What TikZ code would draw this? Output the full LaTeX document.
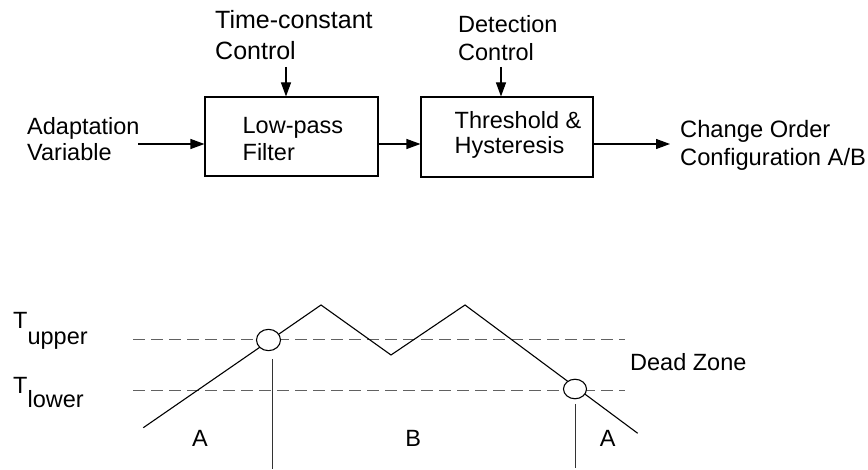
\documentclass[tikz,border=0pt]{standalone}
\usepackage{fontspec}
\setmainfont{Liberation Sans}
\usetikzlibrary{arrows.meta,shapes.geometric}

\tikzset{
  txt/.style={inner sep=0pt, align=left, font=\fontsize{23.5}{27}\selectfont},
  block/.style={draw=black, line width=1.1pt, minimum width=173pt, minimum height=79pt, inner sep=0pt},
  flow/.style={line width=1.1pt, -{Triangle[length=14pt,width=10pt]}},
  signal/.style={line width=1.1pt, line join=miter},
  level/.style={draw=black!62, line width=1.6pt, dash pattern=on 12pt off 6pt},
  marker/.style={draw=black, line width=1.1pt, fill=white, ellipse, inner sep=0pt},
  cut/.style={draw=black!80, line width=1.1pt},
}

\begin{document}
\begin{tikzpicture}[x=1pt, y=-1pt]
  \useasboundingbox (0,0) rectangle (868,470);

  % ---------- signal chain ----------
  \node[block] (lpf) at (291.5,136.5) {};
  \node[block, minimum width=172pt, minimum height=80pt] (hys) at (507,137) {};

  \node[txt, anchor=north west] (lpftext) at ([xshift=38pt,yshift=-21pt]lpf.north west) {Low-pass\\Filter};
  \node[txt, anchor=north west, font=\fontsize{23.5}{25}\selectfont] (hystext) at ([xshift=34pt,yshift=-15pt]hys.north west) {Threshold \&\\Hysteresis};

  \node[txt, anchor=north west, font=\fontsize{23.5}{26.6}\selectfont] (inp) at (27,117) {Adaptation\\Variable};
  \node[txt, anchor=north west, font=\fontsize{23.7}{28.3}\selectfont] (outp) at (680,120) {Change Order\\Configuration A/B};
  \node[txt, anchor=north west, font=\fontsize{25}{31}\selectfont] (tcc) at (215,10) {Time-constant\\Control};
  \node[txt, anchor=north west, font=\fontsize{23.5}{28.3}\selectfont] (dcc) at (458,15) {Detection\\Control};

  \coordinate (inEnd) at (138,144);
  \coordinate (outEnd) at (670,144);
  \coordinate (tcTop) at (286,67);
  \coordinate (dcTop) at (501,67);

  \draw[flow] (inEnd) -- (inEnd -| lpf.west);
  \draw[flow] (lpf.east |- inEnd) -- (hys.west |- inEnd);
  \draw[flow] (hys.east |- inEnd) -- (outEnd);
  \draw[flow] (tcTop) -- (tcTop |- lpf.north);
  \draw[flow] (dcTop) -- (dcTop |- hys.north);

  % ---------- hysteresis thresholds ----------
  \coordinate (upL) at (133,339.5);
  \coordinate (upR) at (625,339.5);
  \coordinate (loL) at (133,390.7);
  \coordinate (loR) at (625,390.7);
  \draw[level] (upL) -- (upR);
  \draw[level] (loL) -- (loR);

  \node[txt, anchor=north west] (tup) at (13,312) {T\raisebox{-16pt}{upper}};
  \node[txt, anchor=north west] (tlo) at (13,377) {T\raisebox{-14pt}{lower}};
  \node[txt, anchor=north west] (dz) at (630,353) {Dead Zone};

  % ---------- input trajectory ----------
  \coordinate (s0) at (143.3,427.7);
  \coordinate (s1) at (321,305);
  \coordinate (s2) at (391,355);
  \coordinate (s3) at (465,305);
  \coordinate (s4) at (637.7,433.3);
  \draw[signal] (s0) -- (s1) -- (s2) -- (s3) -- (s4);

  % switching instants
  \node[marker, minimum width=24pt, minimum height=21.3pt] (swUp) at (268.5,340) {};
  \node[marker, minimum width=23pt, minimum height=19.5pt] (swLo) at (575,389) {};

  \coordinate (cutA) at (272.7,359);
  \coordinate (cutB) at (575.7,404);
  \draw[cut] (cutA) -- ++(0,110);
  \draw[cut] (cutB) -- ++(0,64);

  % regions
  \node[txt] (regA1) at (200,438.5) {A};
  \node[txt] (regB) at (413.3,438.5) {B};
  \node[txt] (regA2) at (607.7,438.5) {A};
\end{tikzpicture}
\end{document}
